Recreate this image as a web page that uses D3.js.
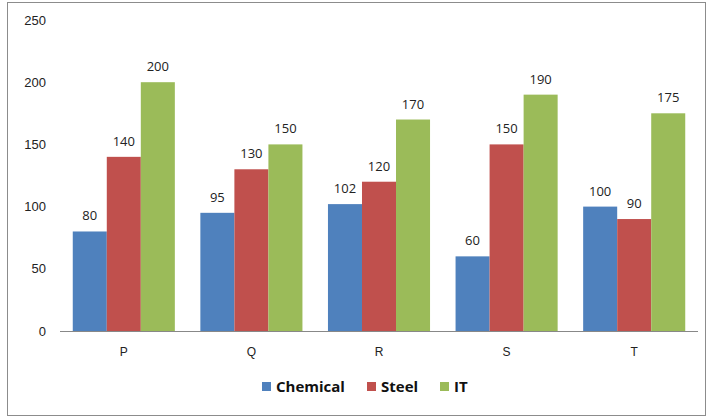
<!DOCTYPE html>
<html>
<head>
<meta charset="utf-8">
<script src="https://cdn.jsdelivr.net/npm/d3@7"></script>
<style>
    body { margin: 0; background: #fff; }
    svg { font-family: "Open Sans", sans-serif; }
    .axis text { font-size: 13px; fill: #222; }
    .axis path, .axis line { stroke: #888; }
    .value-label { font-size: 13px; fill: #222; text-anchor: middle; }
    .legend text { font-size: 15px; font-weight: bold; fill: #111; }
</style>
</head>
<body>
<svg width="707" height="418"></svg>
<script>
    var categories = ["P", "Q", "R", "S", "T"];
    var seriesNames = ["Chemical", "Steel", "IT"];
    var chemical = [80, 95, 102, 60, 100];
    var steel = [140, 130, 120, 150, 90];
    var it = [200, 150, 170, 190, 175];
    var yTicks = [0, 50, 100, 150, 200, 250];
    var colors = ["#4f81bd", "#c0504d", "#9bbb59"];

    var series = [chemical, steel, it];

    var svg = d3.select("svg");

    // outer frame
    svg.append("rect")
        .attr("x", 7.5)
        .attr("y", 2.5)
        .attr("width", 698)
        .attr("height", 413)
        .attr("fill", "none")
        .attr("stroke", "#8c8c8c");

    var x = d3.scaleBand()
        .domain(categories)
        .range([60, 698])
        .paddingInner(0.2)
        .paddingOuter(0.1);

    var x1 = d3.scaleBand()
        .domain(seriesNames)
        .range([0, x.bandwidth()]);

    var y = d3.scaleLinear()
        .domain([0, 250])
        .range([331, 20]);

    // y axis (labels only)
    var yAxis = svg.append("g")
        .attr("class", "axis axis--y")
        .attr("transform", "translate(60,0)")
        .call(d3.axisLeft(y).tickValues(yTicks).tickSize(0).tickPadding(14));
    yAxis.select(".domain").remove();

    var groups = svg.selectAll(".group")
        .data(categories)
        .enter().append("g")
        .attr("class", "group")
        .attr("transform", function(d) {
            return "translate(" + x(d) + ",0)";
        });

    seriesNames.forEach(function(name, si) {
        groups.append("rect")
            .attr("x", x1(name))
            .attr("y", function(d, i) { return y(series[si][i]); })
            .attr("width", x1.bandwidth())
            .attr("height", function(d, i) { return y(0) - y(series[si][i]); })
            .attr("fill", colors[si]);

        groups.append("text")
            .attr("class", "value-label")
            .attr("x", x1(name) + x1.bandwidth() / 2)
            .attr("y", function(d, i) { return y(series[si][i]) - 11; })
            .text(function(d, i) { return series[si][i]; });
    });

    // x axis
    var xAxis = svg.append("g")
        .attr("class", "axis axis--x")
        .attr("transform", "translate(0," + y(0) + ")")
        .call(d3.axisBottom(x).tickSize(0).tickPadding(16).tickSizeOuter(0));
    xAxis.select(".domain").attr("d", "M60,0.5H698");
    xAxis.selectAll("text").style("font-size", "12px");

    // legend
    var legendX = [262, 367, 440];
    var legend = svg.append("g").attr("class", "legend");
    seriesNames.forEach(function(name, i) {
        legend.append("rect")
            .attr("x", legendX[i])
            .attr("y", 382)
            .attr("width", 9)
            .attr("height", 9)
            .attr("fill", colors[i]);
        legend.append("text")
            .attr("x", legendX[i] + 14)
            .attr("y", 392)
            .text(name);
    });
</script>
</body>
</html>
